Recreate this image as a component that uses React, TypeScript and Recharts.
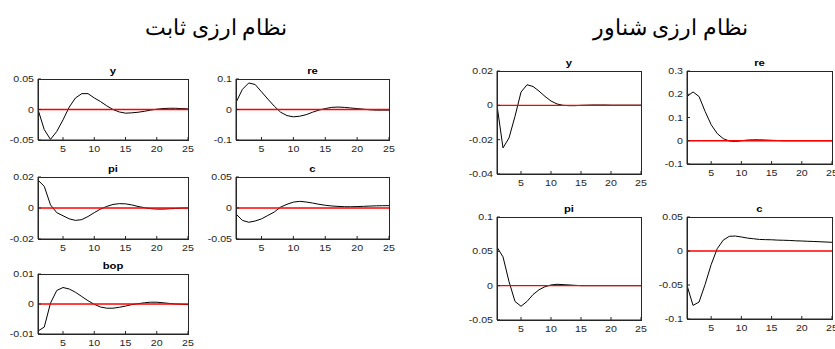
import React from 'react';
import { LineChart, Line, XAxis, YAxis } from 'recharts';

// horizon (periods after the shock)
const periods = [1, 2, 3, 4, 5, 6, 7, 8, 9, 10, 11, 12, 13, 14, 15, 16, 17, 18, 19, 20, 21, 22, 23, 24, 25];
const xTicks = [5, 10, 15, 20, 25];

// fixed exchange rate regime
const fixedY = [0, -0.033, -0.049, -0.036, -0.017, 0.004, 0.019, 0.026, 0.026, 0.019, 0.013, 0.006, 0.0, -0.004, -0.006, -0.0055, -0.0045, -0.003, -0.001, 0.0005, 0.0015, 0.002, 0.002, 0.0015, 0.001];
const fixedRe = [0.023, 0.066, 0.087, 0.082, 0.058, 0.034, 0.011, -0.009, -0.02, -0.024, -0.022, -0.017, -0.009, -0.002, 0.003, 0.007, 0.008, 0.007, 0.005, 0.003, 0.001, -0.001, -0.002, -0.002, -0.002];
const fixedPi = [0.018, 0.014, 0.002, -0.003, -0.005, -0.007, -0.008, -0.0075, -0.0055, -0.003, -0.0007, 0.001, 0.0023, 0.0028, 0.0027, 0.002, 0.001, 0.0002, -0.0004, -0.0007, -0.0007, -0.0005, -0.0003, -0.0001, 0];
const fixedC = [-0.0096, -0.02, -0.023, -0.021, -0.0175, -0.012, -0.0065, 0.0015, 0.006, 0.0095, 0.0107, 0.0097, 0.008, 0.006, 0.0044, 0.0033, 0.0026, 0.0021, 0.002, 0.0023, 0.0027, 0.0031, 0.0035, 0.0037, 0.0038];
const fixedBop = [-0.009, -0.0077, 0.0003, 0.0045, 0.0055, 0.005, 0.0039, 0.0025, 0.0011, -0.0001, -0.001, -0.0014, -0.0014, -0.0011, -0.0007, -0.0002, 0.0001, 0.0004, 0.0006, 0.0006, 0.0004, 0.0002, 0.0, -0.0001, -0.0002];

// floating exchange rate regime
const floatY = [0, -0.0248, -0.019, -0.0064, 0.0077, 0.012, 0.011, 0.0083, 0.0052, 0.0025, 0.0008, 0, -0.0002, -0.0002, 0, 0.0001, 0.0002, 0.0002, 0.0002, 0.0001, 0.0001, 0.0001, 0.0001, 0.0001, 0.0001];
const floatRe = [0.19, 0.21, 0.19, 0.126, 0.069, 0.031, 0.009, -0.001, -0.003, 0, 0.003, 0.004, 0.004, 0.003, 0.002, 0.001, 0, 0, 0, 0, 0, 0, 0, 0, 0];
const floatPi = [0.056, 0.042, 0.006, -0.023, -0.03, -0.023, -0.013, -0.006, -0.0015, 0.001, 0.002, 0.0015, 0.001, 0.0005, 0, 0, 0, 0, 0, 0, 0, 0, 0, 0, 0];
const floatC = [-0.0505, -0.08, -0.075, -0.049, -0.02, 0.0034, 0.016, 0.0216, 0.022, 0.0206, 0.019, 0.018, 0.017, 0.0167, 0.0165, 0.016, 0.0158, 0.0155, 0.015, 0.0147, 0.0143, 0.014, 0.0136, 0.0132, 0.0128];

// y tick labels, low to high
const ticksY05 = [-0.05, 0, 0.05];
const ticksY1 = [-0.1, 0, 0.1];
const ticksY02 = [-0.02, 0, 0.02];
const ticksY01 = [-0.01, 0, 0.01];
const ticksFloatY = [-0.04, -0.02, 0, 0.02];
const ticksFloatRe = [-0.1, 0, 0.1, 0.2, 0.3];
const ticksFloatPi = [-0.05, 0, 0.05, 0.1];
const ticksFloatC = [-0.1, -0.05, 0, 0.05];

const titleFixed = 'نظام ارزی ثابت';
const titleFloat = 'نظام ارزی شناور';

const TICK_FONT = '"Liberation Sans", Arial, sans-serif';
const AXIS = '#262626';

const XTick = ({ x, y, payload }: any) => (
  <text
    transform={`translate(${x},${y}) scale(1.25,1)`}
    textAnchor="middle"
    dy="0.71em"
    fontSize={8.5}
    fill={AXIS}
    fontFamily={TICK_FONT}
  >
    {payload.value}
  </text>
);

const YTick = ({ x, y, payload }: any) => (
  <text
    transform={`translate(${x},${y}) scale(1.25,1)`}
    textAnchor="end"
    dy="0.355em"
    fontSize={8.5}
    fill={AXIS}
    fontFamily={TICK_FONT}
  >
    {String(payload.value)}
  </text>
);

const PAD_L = 40;
const PAD_T = 4;
const PAD_R = 8;
const PAD_B = 16;

interface SubplotProps {
  title: string;
  values: number[];
  yTicks: number[];
  left: number;
  top: number;
  width: number;
  height: number;
}

const Subplot: React.FC<SubplotProps> = ({ title, values, yTicks, left, top, width, height }) => {
  const data = periods.map((t, i) => ({ t, v: values[i], zero: 0 }));
  const yDomain = [yTicks[0], yTicks[yTicks.length - 1]];
  return (
    <>
      <div
        style={{
          position: 'absolute',
          left,
          top: top - 13,
          width,
          textAlign: 'center',
          fontFamily: TICK_FONT,
          fontWeight: 'bold',
          fontSize: 9,
          lineHeight: '10px',
          color: '#000',
          transform: 'scaleX(1.25)',
        }}
      >
        {title}
      </div>
      <div style={{ position: 'absolute', left: left - PAD_L, top: top - PAD_T }}>
        <LineChart
          width={width + PAD_L + PAD_R}
          height={height + PAD_T + PAD_B}
          data={data}
          margin={{ top: PAD_T, right: PAD_R, bottom: 0, left: 0 }}
        >
          <XAxis
            xAxisId="b"
            dataKey="t"
            type="number"
            domain={[1, 25]}
            allowDataOverflow
            ticks={xTicks}
            interval={0}
            height={PAD_B}
            tickSize={-3}
            tickMargin={9}
            tick={<XTick />}
            stroke={AXIS}
          />
          <XAxis
            xAxisId="t"
            orientation="top"
            dataKey="t"
            type="number"
            domain={[1, 25]}
            allowDataOverflow
            ticks={xTicks}
            interval={0}
            height={0}
            tickSize={-3}
            tick={false}
            stroke={AXIS}
          />
          <YAxis
            yAxisId="l"
            type="number"
            domain={yDomain}
            allowDataOverflow
            ticks={yTicks}
            interval={0}
            width={PAD_L}
            tickSize={-3}
            tickMargin={7}
            tick={<YTick />}
            stroke={AXIS}
          />
          <YAxis
            yAxisId="r"
            orientation="right"
            type="number"
            domain={yDomain}
            allowDataOverflow
            ticks={yTicks}
            interval={0}
            width={0}
            tickSize={-3}
            tick={false}
            stroke={AXIS}
          />
          <Line
            xAxisId="b"
            yAxisId="l"
            type="linear"
            dataKey="v"
            stroke="#000000"
            strokeWidth={1}
            dot={false}
            isAnimationActive={false}
          />
          <Line
            xAxisId="b"
            yAxisId="l"
            type="linear"
            dataKey="zero"
            stroke="#ff0000"
            strokeWidth={1.4}
            dot={false}
            isAnimationActive={false}
          />
        </LineChart>
      </div>
      {/* axes box */}
      <div
        style={{
          position: 'absolute',
          left: left - 0.5,
          top: top - 0.5,
          width: width + 1,
          height: height + 1,
          border: `1px solid ${AXIS}`,
          boxSizing: 'border-box',
          pointerEvents: 'none',
        }}
      />
    </>
  );
};

const regimeTitle = (text: string, center: number) => (
  <div
    dir="rtl"
    style={{
      position: 'absolute',
      left: center - 150,
      top: 13,
      width: 300,
      textAlign: 'center',
      fontFamily: '"Times New Roman", "Liberation Serif", "DejaVu Serif", serif',
      fontSize: 22,
      lineHeight: '30px',
      color: '#000',
    }}
  >
    {text}
  </div>
);

export default function App() {
  return (
    <div
      style={{
        position: 'absolute',
        left: 0,
        top: 0,
        width: 835,
        height: 349,
        background: '#fff',
        overflow: 'hidden',
      }}
    >
      {regimeTitle(titleFixed, 216)}
      {regimeTitle(titleFloat, 670)}

      <Subplot title="y" values={fixedY} yTicks={ticksY05} left={38} top={79} width={150} height={61} />
      <Subplot title="re" values={fixedRe} yTicks={ticksY1} left={236} top={79} width={153} height={61} />
      <Subplot title="pi" values={fixedPi} yTicks={ticksY02} left={38} top={177} width={150} height={62} />
      <Subplot title="c" values={fixedC} yTicks={ticksY05} left={236} top={177} width={153} height={62} />
      <Subplot title="bop" values={fixedBop} yTicks={ticksY01} left={38} top={274} width={150} height={60} />

      <Subplot title="y" values={floatY} yTicks={ticksFloatY} left={497} top={71} width={144} height={103} />
      <Subplot title="re" values={floatRe} yTicks={ticksFloatRe} left={687} top={71} width={145} height={93} />
      <Subplot title="pi" values={floatPi} yTicks={ticksFloatPi} left={497} top={217} width={144} height={103} />
      <Subplot title="c" values={floatC} yTicks={ticksFloatC} left={687} top={217} width={145} height={102} />
    </div>
  );
}
